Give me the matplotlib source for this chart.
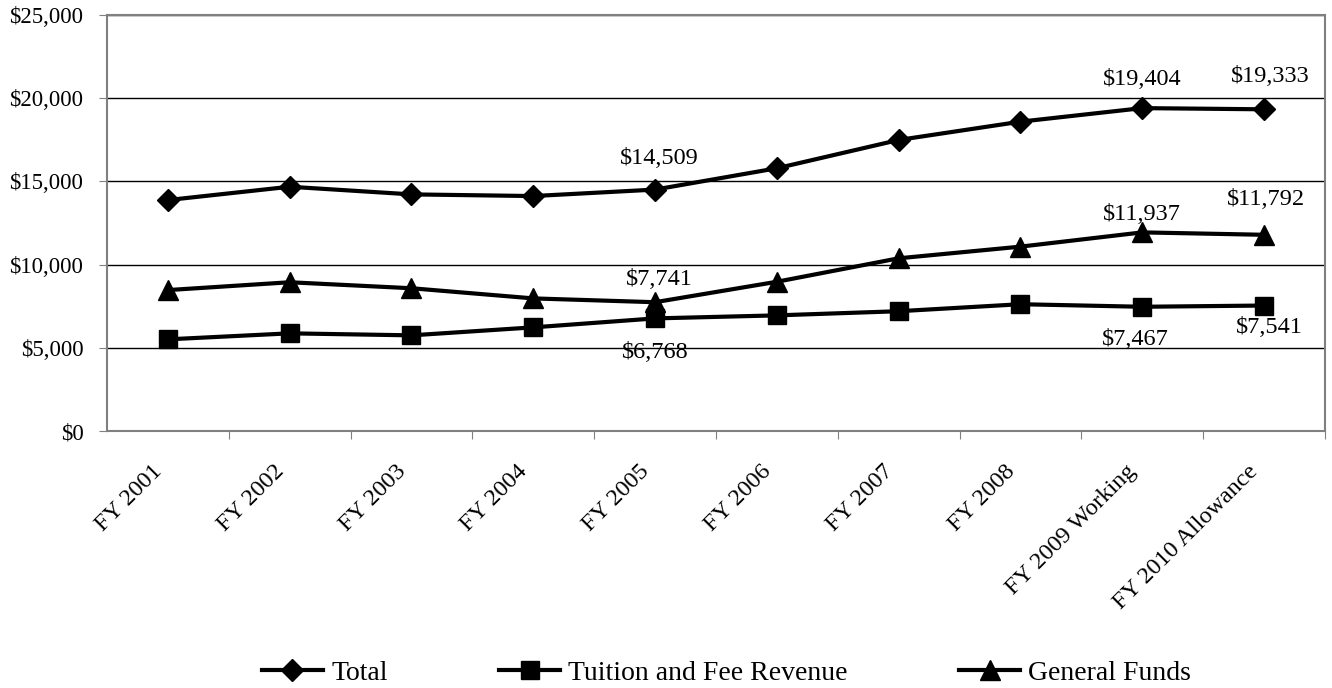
import matplotlib.pyplot as plt
from matplotlib.ticker import FuncFormatter, FixedLocator
from matplotlib.transforms import ScaledTranslation

plt.rcParams['font.family'] = ['Liberation Serif', 'DejaVu Serif']

years = ["FY 2001", "FY 2002", "FY 2003", "FY 2004", "FY 2005", "FY 2006",
         "FY 2007", "FY 2008", "FY 2009 Working", "FY 2010 Allowance"]
total = [13880, 14680, 14220, 14120, 14509, 15790, 17490, 18590, 19404, 19333]
tuition = [5510, 5870, 5750, 6230, 6768, 6950, 7200, 7620, 7467, 7541]
general = [8470, 8940, 8580, 7970, 7741, 8970, 10380, 11080, 11937, 11792]

# which points get a value label, and the offset in pixels
total_labels = {4: (4, 31), 8: (0, 29), 9: (6, 33)}
general_labels = {4: (4, 23), 8: (0, 18), 9: (2, 35)}
tuition_labels = {4: (0, -34), 8: (-7, -33), 9: (5, -22)}

fig = plt.figure(figsize=(13.32, 6.88), dpi=100)
ax = fig.add_axes([0.0803, 0.3735, 0.9144, 0.6047])

x = list(range(len(years)))
lw = 3
ax.plot(x, total, color='black', lw=lw, marker='D', ms=11, label='Total', zorder=3)
ax.plot(x, tuition, color='black', lw=lw, marker='s', ms=13.5, label='Tuition and Fee Revenue', zorder=3)
ax.plot(x, general, color='black', lw=lw, marker='^', ms=15, label='General Funds', zorder=3)

for series, labs in ((total, total_labels), (general, general_labels), (tuition, tuition_labels)):
    for i, (dx, dy) in labs.items():
        ax.annotate(f"${series[i]:,}", (x[i], series[i]), xytext=(dx * 0.72, dy * 0.72),
                    textcoords='offset points', ha='center', va='center', fontsize=17.5)

ax.set_xlim(-0.5, len(years) - 0.5)
ax.set_ylim(0, 25000)
ax.set_yticks(range(0, 25001, 5000))
ax.yaxis.set_major_formatter(FuncFormatter(lambda v, p: f"${v:,.0f}"))
ax.yaxis.grid(True, color='black', lw=1)
ax.set_axisbelow(True)

# tick marks between categories, labels at category centers
ax.xaxis.set_major_locator(FixedLocator([i + 0.5 for i in range(len(years))]))
ax.xaxis.set_major_formatter(FuncFormatter(lambda v, p: ""))
ax.set_xticks(x, minor=True)
ax.set_xticklabels(years, minor=True, rotation=45, ha='right', va='center',
                   rotation_mode='anchor', fontsize=17.5)
ax.tick_params(axis='x', which='minor', length=0, pad=27)
ax.tick_params(axis='x', which='major', length=6, direction='out', color='#808080')
ax.tick_params(axis='y', length=6, direction='out', color='#808080', labelsize=16.5, pad=11)
shift = ScaledTranslation(-9 / 100, 0, fig.dpi_scale_trans)
for lab in ax.get_xticklabels(minor=True):
    lab.set_transform(lab.get_transform() + shift)

for s in ax.spines.values():
    s.set_color('#808080')
    s.set_linewidth(1.5)

fig.legend(loc='center', bbox_to_anchor=(0.5455, 0.022), ncol=3, frameon=False, fontsize=20,
           handlelength=2.2, handletextpad=0.3, columnspacing=4.0)

fig.savefig('out.png', dpi=100)
